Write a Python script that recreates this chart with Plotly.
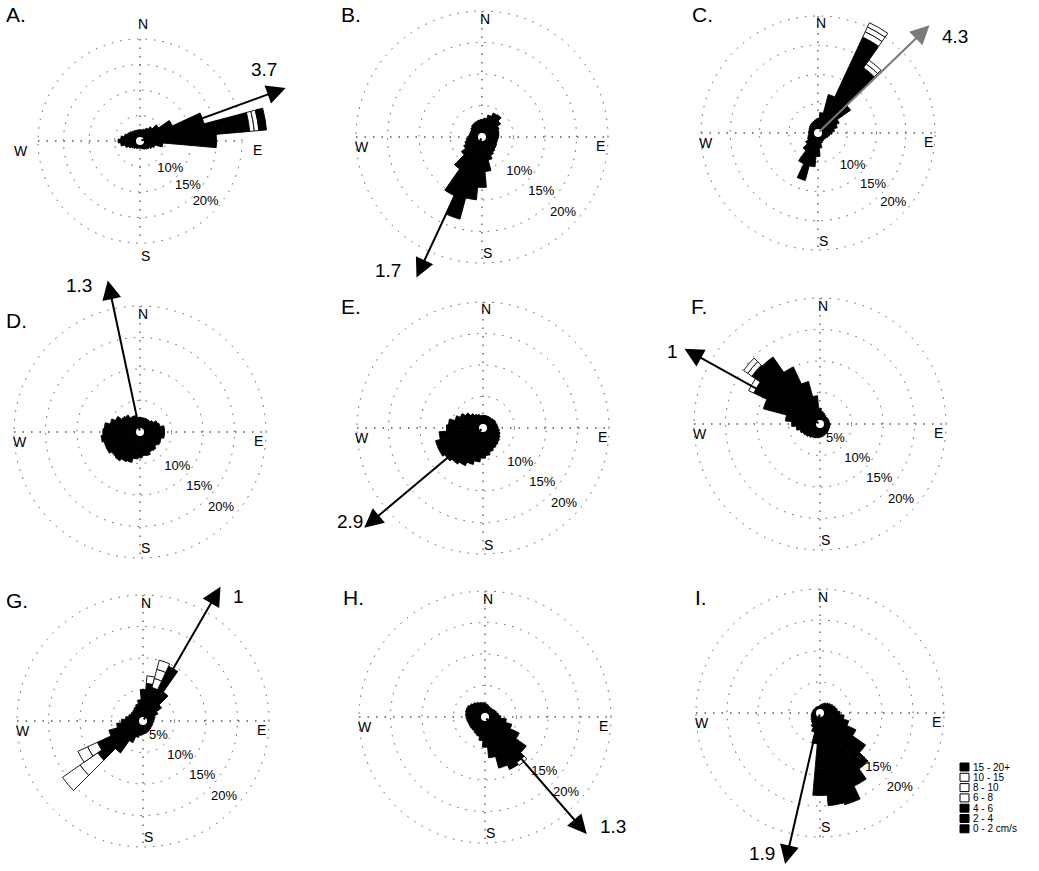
import math
import plotly.graph_objects as go

W, H = 1039, 871
FONT = "Liberation Sans, Arial, Helvetica, sans-serif"

# ---------------------------------------------------------------- data
DIRECTIONS = list(range(0, 360, 10))          # bin centres, degrees from N
SPEED_CLASSES = ["0 - 2 cm/s", "2 - 4", "4 - 6", "6 - 8", "8 - 10", "10 - 15", "15 - 20+"]
CLASS_FILL = {"0 - 2 cm/s": "black", "2 - 4": "black", "4 - 6": "black",
              "6 - 8": "white", "8 - 10": "white", "10 - 15": "white", "15 - 20+": "black"}
LEGEND_TEXT = ["15 - 20+", "10 - 15", "8 - 10", "6 - 8", "4 - 6", "2 - 4", "0 - 2 cm/s"]

# frequency (%) per direction bin, slowest two classes
A_0_2 = [1.4, 1.4, 1.5, 1.7, 2.0, 2.5, 3.1, 4.6, 5.8, 4.8, 2.3, 1.8, 1.6, 1.4, 1.3, 1.2, 1.1, 1.0,
         1.0, 1.0, 1.0, 1.1, 1.2, 1.3, 1.5, 1.8, 2.2, 2.5, 2.2, 1.9, 1.7, 1.6, 1.5, 1.4, 1.4, 1.4]
A_2_4 = [0.8, 0.8, 0.9, 1.1, 1.4, 2.0, 2.6, 4.9, 7.4, 5.6, 1.6, 1.2, 1.0, 0.8, 0.7, 0.6, 0.5, 0.5,
         0.4, 0.4, 0.5, 0.5, 0.6, 0.7, 0.9, 1.2, 1.6, 1.8, 1.6, 1.3, 1.1, 1.0, 0.9, 0.9, 0.8, 0.8]
A_FAST = {"4 - 6": {60: 1.3, 70: 3.5, 80: 8.4, 90: 4.6, 100: 0.6},
          "6 - 8": {80: 0.9}, "8 - 10": {80: 0.9}, "15 - 20+": {80: 1.5}}

B_0_2 = [1.7, 1.8, 2.1, 2.4, 2.5, 2.1, 1.8, 1.7, 1.6, 1.6, 1.5, 1.5, 1.6, 1.6, 1.7, 1.9, 2.2, 2.9,
         3.6, 4.0, 4.6, 4.2, 3.2, 2.3, 1.9, 1.7, 1.5, 1.3, 1.2, 1.2, 1.2, 1.3, 1.4, 1.5, 1.6, 1.6]
B_2_4 = [1.1, 1.2, 1.5, 1.8, 1.8, 1.5, 1.2, 1.1, 1.1, 1.0, 1.0, 1.0, 1.0, 1.1, 1.2, 1.3, 1.6, 2.0,
         3.0, 3.8, 5.2, 3.9, 2.3, 1.7, 1.3, 1.1, 1.0, 0.9, 0.8, 0.8, 0.8, 0.9, 1.0, 1.0, 1.0, 1.1]
B_FAST = {"4 - 6": {170: 0.6, 180: 1.4, 190: 2.2, 200: 3.7, 210: 2.2, 220: 0.7}}

C_0_2 = [1.5, 2.0, 3.0, 4.6, 4.2, 3.0, 2.3, 2.0, 1.7, 1.5, 1.3, 1.2, 1.1, 1.0, 1.0, 1.1, 1.2, 1.6,
         2.3, 2.8, 3.6, 2.8, 2.1, 1.6, 1.3, 1.2, 1.1, 1.1, 1.1, 1.1, 1.1, 1.2, 1.2, 1.3, 1.3, 1.4]
C_2_4 = [1.0, 1.5, 2.6, 6.0, 5.0, 2.5, 1.7, 1.4, 1.1, 0.9, 0.7, 0.6, 0.5, 0.5, 0.5, 0.5, 0.6, 1.0,
         1.7, 2.2, 3.2, 2.2, 1.5, 1.0, 0.7, 0.6, 0.5, 0.5, 0.5, 0.5, 0.6, 0.6, 0.7, 0.7, 0.8, 0.9]
C_FAST = {"4 - 6": {20: 1.2, 30: 7.5, 40: 4.4, 50: 1.3, 190: 0.8, 200: 1.6, 210: 0.8},
          "6 - 8": {30: 1.0, 40: 0.8}, "8 - 10": {30: 0.9, 40: 0.8}, "10 - 15": {30: 0.8}}

D_0_2 = [1.8, 1.6, 1.9, 1.7, 1.8, 2.1, 2.3, 2.8, 2.9, 3.2, 2.8, 2.9, 2.6, 2.8, 2.6, 2.9, 2.8, 3.1,
         2.9, 3.4, 3.6, 4.0, 3.9, 4.3, 4.1, 4.5, 4.4, 4.6, 4.1, 3.8, 3.0, 2.8, 2.3, 2.2, 1.9, 1.9]
D_2_4 = [0.5, 0.7, 0.4, 0.6, 0.5, 0.5, 0.8, 0.5, 1.0, 0.7, 1.1, 0.6, 1.0, 0.5, 1.0, 0.6, 1.1, 0.7,
         1.2, 0.9, 1.4, 1.2, 1.7, 1.2, 1.8, 1.4, 1.8, 1.3, 1.6, 1.1, 1.3, 0.7, 1.0, 0.5, 0.8, 0.4]
D_FAST = {}

E_0_2 = [1.5, 1.4, 1.6, 1.4, 1.5, 1.6, 1.5, 1.7, 1.6, 1.8, 1.8, 2.1, 2.0, 2.4, 2.3, 2.7, 2.7, 3.2,
         3.3, 3.9, 4.1, 4.8, 4.7, 5.3, 5.2, 5.6, 4.9, 4.3, 3.8, 3.4, 2.8, 2.5, 1.9, 1.8, 1.5, 1.5]
E_2_4 = [0.5, 0.6, 0.4, 0.6, 0.5, 0.5, 0.7, 0.5, 0.7, 0.6, 0.8, 0.7, 1.0, 0.8, 1.1, 0.9, 1.2, 1.2,
         1.5, 1.5, 1.9, 1.8, 2.3, 2.1, 2.6, 2.2, 2.1, 1.5, 1.7, 1.2, 1.2, 0.9, 0.9, 0.6, 0.7, 0.5]
E_FAST = {}

F_0_2 = [1.6, 1.3, 1.2, 1.1, 1.0, 1.0, 1.0, 1.0, 1.0, 1.1, 1.1, 1.1, 1.1, 1.1, 1.2, 1.2, 1.3, 1.3,
         1.4, 1.4, 1.5, 1.5, 1.6, 1.7, 1.8, 2.0, 2.2, 2.5, 2.9, 4.0, 4.4, 4.6, 4.5, 4.0, 3.2, 2.6]
F_2_4 = [0.9, 0.7, 0.6, 0.5, 0.5, 0.5, 0.5, 0.5, 0.5, 0.5, 0.5, 0.5, 0.5, 0.6, 0.6, 0.6, 0.6, 0.7,
         0.7, 0.8, 0.8, 0.9, 1.0, 1.1, 1.2, 1.3, 1.6, 2.0, 2.6, 3.5, 4.2, 4.6, 4.5, 3.6, 2.6, 1.9]
F_FAST = {"4 - 6": {290: 1.8, 300: 3.0, 310: 4.0, 320: 4.0, 330: 2.4, 340: 1.2},
          "6 - 8": {300: 0.9, 310: 0.8}, "8 - 10": {310: 0.8}}

G_0_2 = [2.3, 2.2, 2.0, 3.0, 2.3, 2.0, 1.6, 1.3, 1.2, 1.1, 1.1, 1.1, 1.1, 1.1, 1.1, 1.2, 1.2, 1.3,
         1.3, 1.4, 1.6, 2.1, 2.6, 2.8, 2.8, 2.4, 2.3, 2.0, 1.7, 1.5, 1.4, 1.4, 1.4, 1.5, 1.7, 2.0]
G_2_4 = [1.9, 2.2, 2.0, 3.2, 2.0, 1.6, 1.0, 0.7, 0.6, 0.6, 0.5, 0.5, 0.5, 0.5, 0.6, 0.6, 0.7, 0.7,
         0.8, 0.9, 1.1, 1.7, 2.2, 3.2, 2.9, 2.0, 1.9, 1.4, 1.1, 0.9, 0.8, 0.8, 0.9, 1.0, 1.1, 1.4]
G_FAST = {"4 - 6": {0: 0.8, 10: 1.6, 20: 1.5, 30: 3.4, 40: 1.3, 220: 1.4, 230: 2.8, 240: 2.3, 250: 1.2},
          "6 - 8": {10: 1.2, 20: 1.5, 230: 3.4, 240: 1.7},
          "8 - 10": {20: 1.5, 230: 3.4, 240: 1.7}, "10 - 15": {20: 1.5}}

H_0_2 = [1.5, 1.4, 1.2, 1.2, 1.2, 1.2, 1.3, 1.4, 1.5, 1.6, 2.1, 2.6, 2.7, 3.2, 3.4, 3.5, 3.3, 2.8,
         2.8, 2.4, 2.1, 2.0, 1.9, 1.9, 1.9, 1.9, 1.9, 2.0, 2.1, 2.1, 2.1, 2.0, 1.9, 1.8, 1.6, 1.6]
H_2_4 = [0.7, 0.6, 0.6, 0.5, 0.5, 0.6, 0.6, 0.6, 0.7, 0.9, 1.3, 1.8, 2.3, 3.0, 3.2, 3.3, 3.1, 2.5,
         2.0, 1.4, 1.1, 1.0, 0.9, 0.9, 0.9, 0.9, 1.0, 1.0, 1.0, 1.1, 1.1, 1.0, 0.9, 0.8, 0.8, 0.7]
H_FAST = {"4 - 6": {120: 1.0, 130: 1.8, 140: 2.2, 150: 2.4, 160: 2.0, 170: 1.2}, "6 - 8": {140: 0.6}}

I_0_2 = [0.9, 1.0, 1.1, 1.2, 1.3, 1.4, 1.5, 1.6, 1.7, 1.9, 2.2, 2.6, 2.8, 3.4, 3.8, 4.2, 4.6, 4.6,
         4.4, 2.6, 2.0, 1.6, 1.3, 1.2, 1.1, 1.0, 1.0, 0.9, 0.9, 0.9, 0.8, 0.8, 0.8, 0.8, 0.8, 0.8]
I_2_4 = [0.3, 0.4, 0.5, 0.6, 0.7, 0.8, 0.9, 1.0, 1.1, 1.3, 1.7, 2.2, 2.4, 3.2, 3.8, 4.3, 5.0, 4.9,
         4.5, 1.8, 1.2, 0.9, 0.7, 0.6, 0.5, 0.5, 0.4, 0.4, 0.3, 0.3, 0.3, 0.3, 0.3, 0.3, 0.3, 0.3]
I_FAST = {"4 - 6": {120: 1.2, 130: 2.4, 140: 3.4, 150: 4.5, 160: 5.7, 170: 5.5, 180: 4.4, 190: 0.6}}

PANELS = ["A", "B", "C", "D", "E", "F", "G", "H", "I"]
SLOW = {"A": (A_0_2, A_2_4), "B": (B_0_2, B_2_4), "C": (C_0_2, C_2_4), "D": (D_0_2, D_2_4),
        "E": (E_0_2, E_2_4), "F": (F_0_2, F_2_4), "G": (G_0_2, G_2_4), "H": (H_0_2, H_2_4),
        "I": (I_0_2, I_2_4)}
FAST = {"A": A_FAST, "B": B_FAST, "C": C_FAST, "D": D_FAST, "E": E_FAST, "F": F_FAST,
        "G": G_FAST, "H": H_FAST, "I": I_FAST}

# mean current direction (deg from N) and speed (cm/s)
MEAN_DIR = [70, 205, 46, 348, 230, 299, 30, 139, 193]
MEAN_SPEED = [3.7, 1.7, 4.3, 1.3, 2.9, 1.0, 1.0, 1.3, 1.9]

# ring labels drawn in each panel (%)
RING_LABELS = {"A": [10, 15, 20], "B": [10, 15, 20], "C": [10, 15, 20], "D": [10, 15, 20],
               "E": [10, 15, 20], "F": [5, 10, 15, 20], "G": [5, 10, 15, 20],
               "H": [15, 20], "I": [15, 20]}

# ---------------------------------------------------------------- layout geometry (px)
CENTER = {"A": (140, 141), "B": (482, 137), "C": (818, 133),
          "D": (140, 432), "E": (483, 428), "F": (820, 424),
          "G": (143, 721), "H": (485, 717), "I": (820, 713)}
RING20_PX = {"A": 102, "B": 126, "C": 117, "D": 126, "E": 126, "F": 126, "G": 126, "H": 126, "I": 124}
RMAX = {"A": 25.6, "B": 20.3, "C": 21.3, "D": 20.3, "E": 20.3, "F": 20.3, "G": 20.3, "H": 20.3, "I": 20.3}
CARD_R = {"A": 117, "B": 118, "C": 110, "D": 118, "E": 119, "F": 118, "G": 118, "H": 118, "I": 116}
LETTER_POS = {"A": (5, 15), "B": (340, 15), "C": (691, 15), "D": (5, 320), "E": (340, 307),
              "F": (690, 307), "G": (5, 600), "H": (342, 597), "I": (694, 597)}
ARROW_LEN = 155
ARROW_LABEL_OFF = {"A": (-22, -18), "B": (-28, -7), "C": (26, 11), "D": (-29, 5), "E": (-14, -6),
                   "F": (-12, 3), "G": (18, 10), "H": (26, -7), "I": (-23, -11)}
ARROW_COLOR = {"C": "#7a7a7a"}
GRID_COLOR = "#555555"
DOTS = "1.5px,7px"


def px(x, y):
    return x / W, 1 - y / H


def label(x, y, text, size, xanchor="center"):
    a, b = px(x, y)
    return dict(x=a, y=b, xref="paper", yref="paper", text=text, showarrow=False,
                xanchor=xanchor, yanchor="middle", borderpad=0,
                font=dict(family=FONT, size=size, color="black"))


fig = go.Figure()
shapes, annotations = [], []

for i, p in enumerate(PANELS):
    sub = "polar" if i == 0 else f"polar{i + 1}"
    slow0, slow1 = SLOW[p]
    series = {"0 - 2 cm/s": dict(zip(DIRECTIONS, slow0)), "2 - 4": dict(zip(DIRECTIONS, slow1))}
    series.update(FAST[p])

    for cls in SPEED_CLASSES:
        vals = series.get(cls)
        if not vals:
            continue
        th = list(vals.keys())
        rr = list(vals.values())
        fig.add_trace(go.Barpolar(
            r=rr, theta=th, width=[10] * len(th), name=cls, subplot=sub, showlegend=False,
            marker=dict(color=CLASS_FILL[cls], line=dict(color="black", width=0.9)),
            hoverinfo="skip"))

    # ring labels
    labs = RING_LABELS[p]
    fig.add_trace(go.Scatterpolar(
        r=[v * 0.95 - 1.4 for v in labs], theta=[133] * len(labs), mode="text",
        text=[f"{v}%" for v in labs], textfont=dict(family=FONT, size=13, color="black"),
        subplot=sub, showlegend=False, cliponaxis=False, hoverinfo="skip"))

    # white hub
    fig.add_trace(go.Scatterpolar(
        r=[0], theta=[0], mode="markers", subplot=sub, showlegend=False, hoverinfo="skip",
        marker=dict(size=8, color="white", line=dict(width=0))))

    cx, cy = CENTER[p]
    rp = RMAX[p] / 20 * RING20_PX[p]
    fig.update_layout({sub: dict(
        domain=dict(x=[(cx - rp) / W, (cx + rp) / W], y=[1 - (cy + rp) / H, 1 - (cy - rp) / H]),
        bgcolor="rgba(0,0,0,0)", barmode="stack",
        angularaxis=dict(rotation=90, direction="clockwise", showgrid=False, showline=False,
                         showticklabels=False, ticks=""),
        radialaxis=dict(range=[0, RMAX[p]], tickvals=[5, 10, 15, 20], showticklabels=False,
                        showline=False, ticks="", gridcolor=GRID_COLOR, griddash=DOTS,
                        gridwidth=1.3, layer="below traces"))})

    # N-S / E-W dotted cross
    R20 = RING20_PX[p]
    for (x0, y0, x1, y1) in [(cx - R20, cy, cx + R20, cy), (cx, cy - R20, cx, cy + R20)]:
        a0, b0 = px(x0, y0)
        a1, b1 = px(x1, y1)
        shapes.append(dict(type="line", xref="paper", yref="paper", x0=a0, y0=b0, x1=a1, y1=b1,
                           layer="below", line=dict(color=GRID_COLOR, width=1.3, dash=DOTS)))

    # compass letters
    L = CARD_R[p]
    for txt, (dx, dy) in [("N", (3, -L)), ("S", (5, L - 2)), ("W", (-L - 2, 10)), ("E", (L, 9))]:
        annotations.append(label(cx + dx, cy + dy, txt, 14))

    # panel letter
    lx, ly = LETTER_POS[p]
    annotations.append(label(lx, ly, f"{p}.", 21, xanchor="left"))

    # mean-current arrow
    ang = math.radians(MEAN_DIR[i])
    tx, ty = cx + ARROW_LEN * math.sin(ang), cy - ARROW_LEN * math.cos(ang)
    a, b = px(tx, ty)
    col = ARROW_COLOR.get(p, "black")
    annotations.append(dict(x=a, y=b, xref="paper", yref="paper", text="", showarrow=True,
                            ax=cx - tx, ay=cy - ty, axref="pixel", ayref="pixel",
                            arrowhead=2, arrowsize=1.9, arrowwidth=2, arrowcolor=col))
    ox, oy = ARROW_LABEL_OFF[p]
    annotations.append(label(tx + ox, ty + oy, f"{MEAN_SPEED[i]:g}", 19))

# speed-class key
for k, txt in enumerate(LEGEND_TEXT):
    y = 767 + k * 10.3
    fill = CLASS_FILL[txt]
    a0, b0 = px(960, y - 4)
    a1, b1 = px(969, y + 4)
    shapes.append(dict(type="rect", xref="paper", yref="paper", x0=a0, y0=b0, x1=a1, y1=b1,
                       fillcolor=fill, line=dict(color="black", width=1)))
    annotations.append(label(972, y, txt, 10, xanchor="left"))

fig.update_layout(width=W, height=H, margin=dict(l=0, r=0, t=0, b=0),
                  paper_bgcolor="white", plot_bgcolor="white",
                  shapes=shapes, annotations=annotations, showlegend=False)

fig.write_html("out.html")
